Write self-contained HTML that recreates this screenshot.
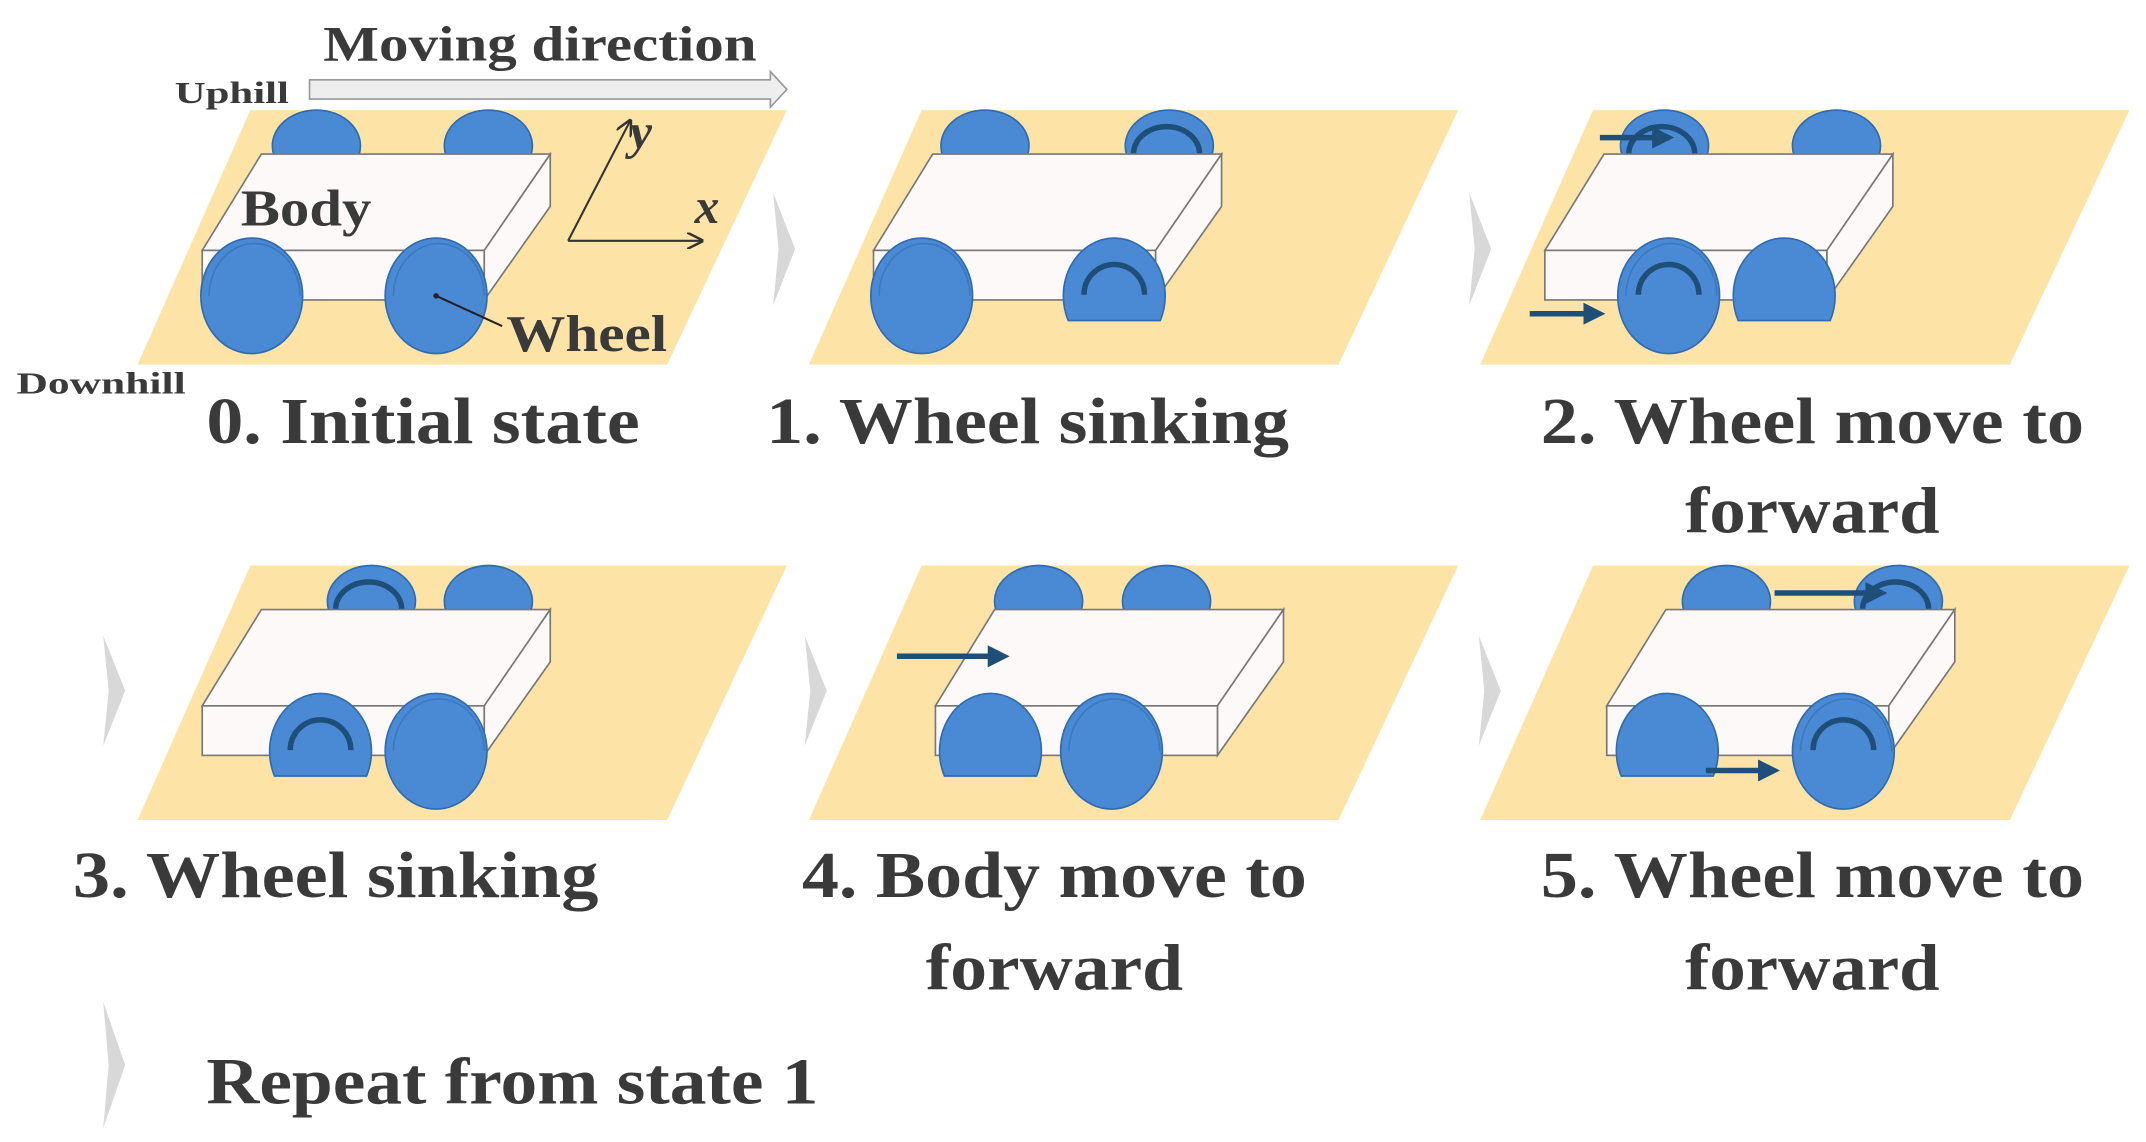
<!DOCTYPE html>
<html><head><meta charset="utf-8"><style>
html,body{margin:0;padding:0;background:#fff;}
svg{display:block;}
text{font-family:"Liberation Serif",serif;font-weight:bold;fill:#3a3a3a;}
</style></head><body>
<svg id="s" width="2146" height="1142" viewBox="0 0 1560 830" preserveAspectRatio="none" xmlns="http://www.w3.org/2000/svg">
<defs>
<marker id="ah" markerWidth="4" markerHeight="4" refX="3" refY="2" orient="auto"><path d="M0,0 L4,2 L0,4 z" fill="#1f4e79"/></marker>
<marker id="ak" markerWidth="8" markerHeight="8" refX="7" refY="4" orient="auto"><path d="M0,0 L8,4 L0,8" fill="none" stroke="#333" stroke-width="1.2"/></marker>
</defs>
<g id="g"></g>
<text x="235" y="44" font-size="36" textLength="315" lengthAdjust="spacingAndGlyphs">Moving direction</text>
<path d="M225,58 L560,58 L560,52 L572,65 L560,78 L560,72 L225,72 z" fill="#eeeeee" stroke="#999" stroke-width="1.2"/>
<text x="127" y="75" font-size="22" textLength="83" lengthAdjust="spacingAndGlyphs">Uphill</text>
<text x="12" y="286" font-size="22" textLength="123" lengthAdjust="spacingAndGlyphs">Downhill</text>
<g font-size="48">
<text x="150" y="322" textLength="315" lengthAdjust="spacingAndGlyphs">0. Initial state</text>
<text x="557" y="322" textLength="380" lengthAdjust="spacingAndGlyphs">1. Wheel sinking</text>
<text x="1120" y="322" textLength="395" lengthAdjust="spacingAndGlyphs">2. Wheel move to</text>
<text x="1225" y="387" textLength="185" lengthAdjust="spacingAndGlyphs">forward</text>
<text x="53" y="652" textLength="382" lengthAdjust="spacingAndGlyphs">3. Wheel sinking</text>
<text x="583" y="652" textLength="367" lengthAdjust="spacingAndGlyphs">4. Body move to</text>
<text x="673" y="719" textLength="187" lengthAdjust="spacingAndGlyphs">forward</text>
<text x="1120" y="652" textLength="395" lengthAdjust="spacingAndGlyphs">5. Wheel move to</text>
<text x="1225" y="719" textLength="185" lengthAdjust="spacingAndGlyphs">forward</text>
<text x="150" y="802" textLength="445" lengthAdjust="spacingAndGlyphs">Repeat from state 1</text>
</g>
</svg>
<script>
var g=document.getElementById('g');var h='';
var W='#4a8ad4',WS='#2e6bb0',AR='#1f4e79';
function wheel(x,y,rx,ry){return '<ellipse cx="'+x+'" cy="'+y+'" rx="'+rx+'" ry="'+ry+'" fill="'+W+'" stroke="'+WS+'" stroke-width="1.2"/><path d="M'+(x-rx+6)+','+(y)+' A'+(rx-4)+','+(ry-4)+' 0 0 1 '+(x+rx-2)+','+(y)+'" fill="none" stroke="#3b78c0" stroke-width="1.2"/>';}
function dome(x,y,rx,ry,by){var dy=by-y;var dx=rx*Math.sqrt(Math.max(0,1-dy*dy/(ry*ry)));
 return '<path d="M'+(x-dx)+','+by+' A'+rx+','+ry+' 0 1 1 '+(x+dx)+','+by+' z" fill="'+W+'" stroke="'+WS+'" stroke-width="1.2"/>';}
function arc(x,y,rx,ry){return '<path d="M'+(x-rx)+','+(y+ry*0.6)+' A'+rx+','+ry+' 0 0 1 '+(x+rx)+','+(y+ry*0.6)+'" fill="none" stroke="'+AR+'" stroke-width="4"/>';}
function arrow(x1,y,x2){return '<line x1="'+x1+'" y1="'+y+'" x2="'+x2+'" y2="'+y+'" stroke="'+AR+'" stroke-width="4" marker-end="url(#ah)"/>';}
function body(ox,oy,s){var p=function(a,b){return (a+ox+s)+','+(b+oy);};
 return '<polygon points="'+p(147,182)+' '+p(190,112)+' '+p(400,112)+' '+p(352,182)+'" fill="#fdf9f9" stroke="#777" stroke-width="1.2"/>'+
 '<polygon points="'+p(352,182)+' '+p(400,112)+' '+p(400,150)+' '+p(352,218)+'" fill="#fdf9f9" stroke="#777" stroke-width="1.2"/>'+
 '<rect x="'+(147+ox+s)+'" y="'+(182+oy)+'" width="205" height="36" fill="#fdf9f9" stroke="#777" stroke-width="1.2"/>';}
function plane(ox,oy){return '<polygon points="'+(182+ox)+','+(80+oy)+' '+(572+ox)+','+(80+oy)+' '+(485+ox)+','+(265+oy)+' '+(100+ox)+','+(265+oy)+'" fill="#fde3a6"/>';}
function chev(x,y1,y2){var m=(y1+y2)/2;return '<polygon points="'+x+','+y1+' '+(x+16)+','+m+' '+x+','+y2+' '+(x+4)+','+m+'" fill="#d8d8d8"/>';}
var P=[
 [0,0,0,[[230,0],[355,0]],[[183,'w',0],[317,'w',0]]],
 [488,0,0,[[228,0],[362,1]],[[182,'w',0],[322,'d',1]]],
 [976,0,0,[[234,1],[359,0]],[[237,'w',1],[321,'d',0]]],
 [0,331,0,[[270,1],[355,0]],[[233,'d',1],[317,'w',0]]],
 [488,331,45,[[267,0],[360,0]],[[232,'d',0],[320,'w',0]]],
 [976,331,45,[[279,0],[404,1]],[[236,'d',0],[364,'w',1]]]
];
P.forEach(function(q){var ox=q[0],oy=q[1],s=q[2];
 h+=plane(ox,oy);
 q[3].forEach(function(b){var x=b[0]+ox,y=oy+112;h+=dome(x,y+8,32,26,y+1);if(b[1])h+=arc(x-2,y-12,24,20);});
 h+=body(ox,oy,s);
 q[4].forEach(function(f){var x=f[0]+ox,y=oy+215;
  if(f[1]=='w')h+=wheel(x,y,37,42);else h+=dome(x,y,37,42,oy+233);
  if(f[2])h+=arc(x,y-14,22,22);});
});
h+=arrow(1163,100,1213)+arrow(1112,228,1163)+arrow(652,477,730)+arrow(1290,431,1368)+arrow(1240,560,1290);
h+='<line x1="413" y1="175" x2="458" y2="88" stroke="#333" stroke-width="1.5" marker-end="url(#ak)"/><line x1="413" y1="175" x2="510" y2="175" stroke="#333" stroke-width="1.5" marker-end="url(#ak)"/>';
h+='<text x="458" y="108" font-size="36" font-style="italic" font-weight="normal">y</text><text x="505" y="162" font-size="36" font-style="italic" font-weight="normal">x</text>';
h+='<text x="175" y="164" font-size="38" textLength="95" lengthAdjust="spacingAndGlyphs">Body</text><line x1="317" y1="215" x2="365" y2="237" stroke="#222" stroke-width="1.5"/><circle cx="317" cy="215" r="2" fill="#222"/><text x="368" y="255" font-size="38" textLength="117" lengthAdjust="spacingAndGlyphs">Wheel</text>';
h+=chev(562,140,222)+chev(1068,140,222)+chev(75,462,542)+chev(585,462,542)+chev(1075,462,542)+chev(75,728,820);
g.innerHTML=h;
</script>
</body></html>
